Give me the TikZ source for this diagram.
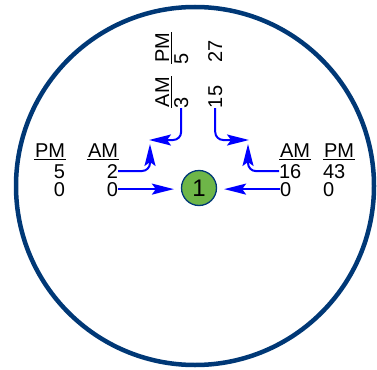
\documentclass[tikz,border=0pt]{standalone}
\usepackage{fontspec}
\setmainfont{Liberation Sans}
\usetikzlibrary{arrows.meta}
\definecolor{ringblue}{RGB}{0,56,118}
\definecolor{nodegreen}{RGB}{110,182,72}
\newcommand{\hdr}[1]{\setbox0=\hbox{#1}\rlap{\kern-1pt\rule[-3pt]{\dimexpr\wd0+2pt\relax}{1.2pt}}\box0}
\tikzset{
    cnt/.style={font=\fontsize{20}{20}\selectfont, inner sep=0pt, outer sep=0pt},
    mv/.style={draw=blue, line width=2pt, rounded corners=8pt,
        -{Stealth[length=22pt,width=11pt,inset=4pt]}},
}
\begin{document}
\begin{tikzpicture}[x=1pt,y=-1pt]
        \useasboundingbox (0,0) rectangle (377,369);
        \draw[ringblue, line width=4.5pt] (195,186) circle (179pt);
        \node[circle, draw=ringblue, line width=1.3pt, fill=nodegreen, minimum size=35pt, inner sep=0pt, font=\fontsize{24}{24}\selectfont] (n1) at (199,188) {1};
        \node[cnt, anchor=base east] (wPM) at (65,157) {\hdr{PM}};
        \node[cnt, anchor=base east] (wPM1) at (65,178) {5};
        \node[cnt, anchor=base east] (wPM2) at (65,196) {0};
        \node[cnt, anchor=base east] (wAM) at (118,157) {\hdr{AM}};
        \node[cnt, anchor=base east] (wAM1) at (118,178) {2};
        \node[cnt, anchor=base east] (wAM2) at (118,196) {0};
        \node[cnt, rotate=90, anchor=base west] (nPM) at (169,63) {\hdr{PM}};
        \node[cnt, rotate=90, anchor=base west] (nPM1) at (188,64) {5};
        \node[cnt, rotate=90, anchor=base west] (nPM2) at (222,63) {27};
        \node[cnt, rotate=90, anchor=base west] (nAM) at (169,107) {\hdr{AM}};
        \node[cnt, rotate=90, anchor=base west] (nAM1) at (188,108) {3};
        \node[cnt, rotate=90, anchor=base west] (nAM2) at (222,108) {15};
        \node[cnt, anchor=base west] (eAM) at (280,157) {\hdr{AM}};
        \node[cnt, anchor=base west] (eAM1) at (279,178) {16};
        \node[cnt, anchor=base west] (eAM2) at (280,196) {0};
        \node[cnt, anchor=base west] (ePM) at (324,157) {\hdr{PM}};
        \node[cnt, anchor=base west] (ePM1) at (323,178) {43};
        \node[cnt, anchor=base west] (ePM2) at (323,196) {0};
        \coordinate (wTip) at (150,144);
        \coordinate (nwTip) at (149,140);
        \coordinate (neTip) at (249,140);
        \coordinate (eTip) at (248,144);
        \draw[mv] (wAM1.east) -| (wTip);
        \draw[mv, shorten >=7pt] (wAM2.east) -- (wAM2.east -| n1.west);
        \draw[mv] (nAM1.west) |- (nwTip);
        \draw[mv] (nAM2.west) |- (neTip);
        \draw[mv] (eAM1.west) -| (eTip);
        \draw[mv, shorten >=7pt] (eAM2.west) -- (eAM2.west -| n1.east);
    \end{tikzpicture}
\end{document}
